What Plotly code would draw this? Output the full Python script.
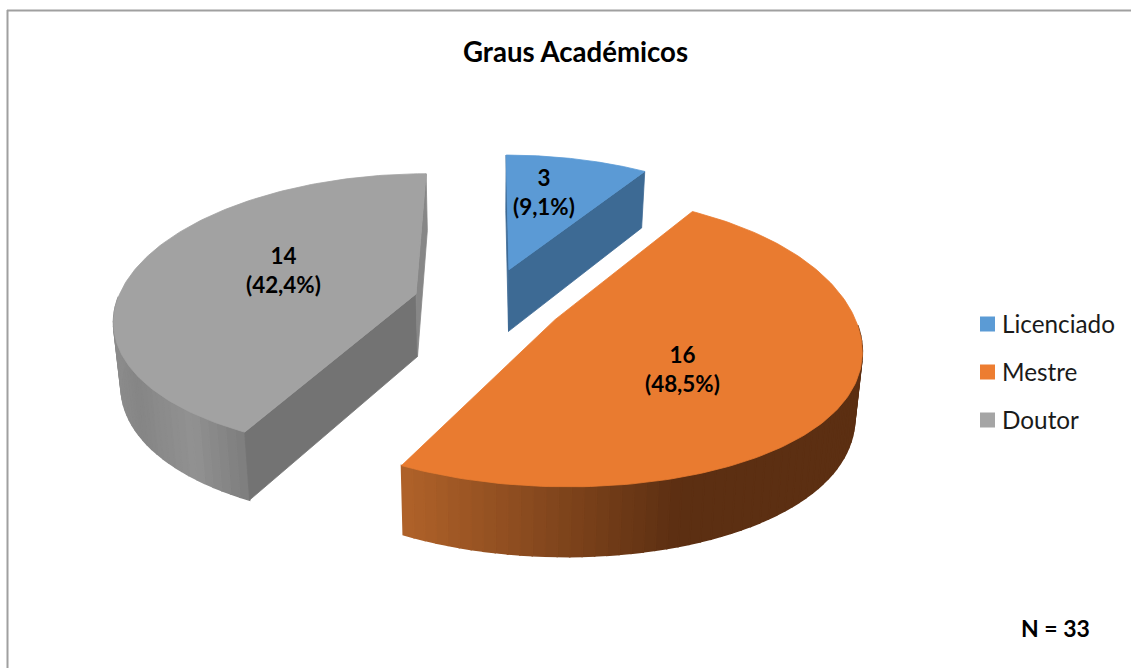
import numpy as np
import plotly.graph_objects as go

# --- data ---
categories = ["Licenciado", "Mestre", "Doutor"]
values = [3, 16, 14]
title_text = "Graus Académicos"
note_text = "N = 33"

# --- styles ---
legend_colors = ["#5b9bd5", "#ed7d31", "#a5a5a5"]
top_colors = ["#5b9ad5", "#e97b30", "#a2a2a2"]
cut_colors = ["#3d6a94", "#5c2f12", "#737373"]
FONT = "Lato"

# --- 3D projection of the exploded pie (screen-pixel axes) ---
CX, CY, A, B, KX, KY, EXPLODE = 488.5, 302.0, 301.0, 138.8, 0.162, 0.138, 0.25


def project(X, Y, low=False):
    x = CX + A * X / (1 + KX * Y)
    y = CY - B * Y / (1 + KY * Y)
    if low:
        x = CX + (x - CX) * 0.98
        y = y + 63 - 6 * Y
    return x, y


def point(theta, off, low=False):
    s = np.sin(theta)
    squash = np.where(s > 0, 0.022, 0.006) * s ** 4
    return project(s * (1 - squash) + off[0], np.cos(theta) + off[1], low)


def side_color(i, x):
    if i == 1:
        xs, rs, gs, bs = [403, 680], [176, 92], [98, 47], [42, 18]
    else:
        xs, rs, gs, bs = [113, 135, 190, 253], [140, 134, 146, 122], [140, 134, 146, 122], [140, 134, 146, 122]
    return "rgb(%d,%d,%d)" % (np.interp(x, xs, rs), np.interp(x, xs, gs), np.interp(x, xs, bs))


fig = go.Figure()


def poly(xs, ys, color, width=0.8):
    fig.add_trace(go.Scatter(x=list(xs) + [xs[0]], y=list(ys) + [ys[0]], mode="lines", fill="toself",
                             fillcolor=color, line=dict(color=color, width=width),
                             hoverinfo="skip", showlegend=False))


total = sum(values)
edges = np.cumsum([0] + values) / total * 2 * np.pi
offsets = []
for i in range(len(values)):
    mid = (edges[i] + edges[i + 1]) / 2
    offsets.append((EXPLODE * np.sin(mid), EXPLODE * np.cos(mid)))

for i in [2, 0, 1]:
    t0, t1 = edges[i], edges[i + 1]
    off = offsets[i]
    # outer wall, near side only
    if i != 0:
        n = int((t1 - t0) / np.radians(2.0)) + 1
        ts = np.linspace(t0, t1, n + 1)
        for a, b in zip(ts[:-1], ts[1:]):
            if np.cos((a + b) / 2) > -0.03:
                continue
            xa, ya = point(a, off)
            xb, yb = point(b, off)
            xc, yc = point(b, off, True)
            xd, yd = point(a, off, True)
            poly([xa, xb, xc, xd], [ya, yb, yc, yd], side_color(i, (xa + xb) / 2), 1.6)
    # cut faces
    ax, ay = project(off[0], off[1])
    alx, aly = project(off[0], off[1], True)
    for t, shade in ((t0, cut_colors[i]), (t1, "#878787" if i == 2 else cut_colors[i])):
        if i == 1:
            continue
        xa, ya = point(t, off)
        xb, yb = point(t, off, True)
        poly([ax, xa, xb, alx], [ay, ya, yb, aly], shade)
    # top face
    ts = np.linspace(t0, t1, 160)
    xs, ys = point(ts, off)
    poly([ax] + list(xs), [ay] + list(ys), top_colors[i])

# legend markers and names
legend_y = [324, 372, 420]
fig.add_trace(go.Scatter(x=[987.5] * 3, y=legend_y, mode="markers",
                         marker=dict(symbol="square", size=15, color=legend_colors),
                         hoverinfo="skip", showlegend=False))

annotations = []
for name, ly in zip(categories, legend_y):
    annotations.append(dict(x=1000, y=ly - 1, xref="x", yref="y", xanchor="left", showarrow=False, text=name,
                            font=dict(family=FONT, size=24.3, color="#1a1a1a")))

# data labels
label_pos = [(544, 192), (682, 369), (283, 270)]
for v, (lx, ly) in zip(values, label_pos):
    pct = f"{v / total * 100:.1f}".replace(".", ",")
    annotations.append(dict(x=lx, y=ly, xref="x", yref="y", showarrow=False,
                            text=f"<b>{v}<br>({pct}%)</b>",
                            font=dict(family=FONT, size=22.4, color="black"), align="center"))
annotations.append(dict(x=575, y=51, xref="x", yref="y", showarrow=False, text=f"<b>{title_text}</b>",
                        font=dict(family=FONT, size=27.6, color="black")))
annotations.append(dict(x=1055, y=628, xref="x", yref="y", showarrow=False, text=f"<b>{note_text}</b>",
                        font=dict(family=FONT, size=23, color="black")))

frame = dict(type="line", xref="x", yref="y", line=dict(color="#a0a0a0", width=2), layer="below")
fig.update_layout(
    width=1131, height=668, margin=dict(l=0, r=0, t=0, b=0),
    paper_bgcolor="white", plot_bgcolor="white", showlegend=False,
    xaxis=dict(range=[0, 1131], visible=False, fixedrange=True),
    yaxis=dict(range=[668, 0], visible=False, fixedrange=True),
    annotations=annotations,
    shapes=[dict(frame, x0=7.5, x1=7.5, y0=10, y1=668), dict(frame, x0=7, x1=1131, y0=10.5, y1=10.5)],
)
fig.write_html("out.html", post_script="document.body.style.margin='0';document.body.style.overflow='hidden';",
               config={"displayModeBar": False})
